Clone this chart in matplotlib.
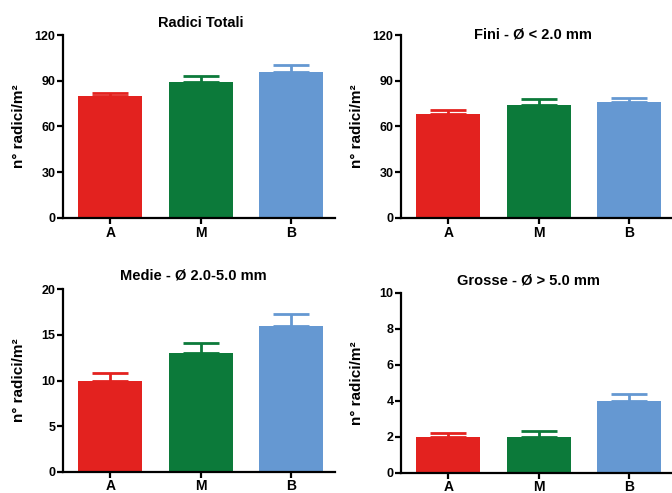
import matplotlib
matplotlib.use("Agg")
import matplotlib.pyplot as plt
import numpy as np

plt.rcParams['font.family'] = ['Liberation Sans', 'DejaVu Sans']
plt.rcParams['font.weight'] = 'bold'

# data
categories = ["A", "M", "B"]
colors = ["#e3221f", "#0c7a3a", "#6598d2"]

titles = ["Radici Totali", "Fini - Ø < 2.0 mm", "Medie - Ø 2.0-5.0 mm", "Grosse - Ø > 5.0 mm"]
totali = [80, 89, 96]
totali_err = [2, 4, 4]
fini = [68, 74, 76]
fini_err = [2.7, 4, 2.4]
medie = [10, 13, 16]
medie_err = [0.8, 1.1, 1.3]
grosse = [2.0, 2.0, 4.0]
grosse_err = [0.2, 0.3, 0.4]

values = [totali, fini, medie, grosse]
errors = [totali_err, fini_err, medie_err, grosse_err]
ylims = [120, 120, 20, 10]
yticks = [[0, 30, 60, 90, 120], [0, 30, 60, 90, 120], [0, 5, 10, 15, 20], [0, 2, 4, 6, 8, 10]]

# axes boxes in figure fractions [left, bottom, width, height]
boxes = [
    [0.094, 0.558, 0.405, 0.371],
    [0.597, 0.558, 0.405, 0.371],
    [0.094, 0.043, 0.405, 0.370],
    [0.597, 0.041, 0.405, 0.365],
]
# title anchor in axes fractions
title_pos = [(0.506, 1.067), (0.485, 1.005), (0.48, 1.075), (0.467, 1.07)]

fig = plt.figure(figsize=(6.72, 4.93), dpi=100)

for i in range(4):
    ax = fig.add_axes(boxes[i])
    x = np.arange(len(categories))
    ax.bar(x, values[i], width=0.71, color=colors, zorder=2)
    for j in range(len(categories)):
        ax.errorbar(x[j], values[i][j], yerr=[[0], [errors[i][j]]], color=colors[j],
                    capsize=13, capthick=2, elinewidth=2, fmt='none', zorder=1)
    ax.set_xlim(-0.52, 2.49)
    ax.set_ylim(0, ylims[i])
    ax.set_yticks(yticks[i])
    ax.set_xticks(x)
    ax.set_xticklabels(categories)
    ax.spines['top'].set_visible(False)
    ax.spines['right'].set_visible(False)
    ax.spines['left'].set_linewidth(1.6)
    ax.spines['bottom'].set_linewidth(1.6)
    ax.tick_params(width=1.6, length=4, labelsize=9, pad=1.5)
    ax.tick_params(axis='x', labelsize=10)
    ax.set_ylabel("n° radici/m²", fontsize=11, fontweight='bold')
    ax.yaxis.set_label_coords(-0.135, 0.5)
    ax.text(title_pos[i][0], title_pos[i][1], titles[i], transform=ax.transAxes,
            ha='center', va='center', fontsize=10.5, fontweight='bold')

fig.savefig("out.png", dpi=100)
